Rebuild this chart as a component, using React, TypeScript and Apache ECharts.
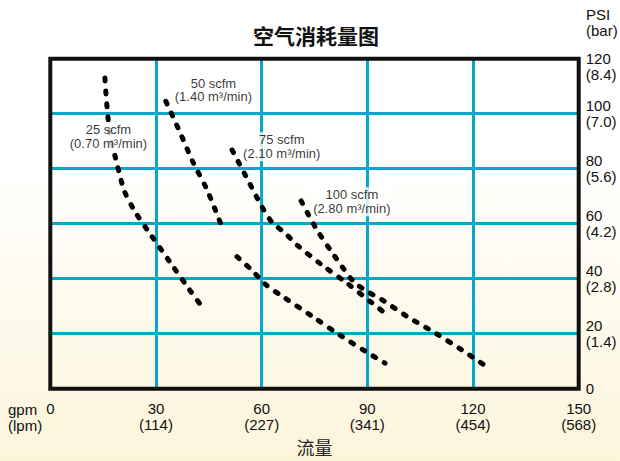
import React, { useEffect, useRef } from 'react';
import * as echarts from 'echarts';

// Axis ticks
const gpmTicks = [0, 30, 60, 90, 120, 150];
const lpmTicks = ['', '(114)', '(227)', '(341)', '(454)', '(568)'];
const psiTicks = [0, 20, 40, 60, 80, 100, 120];
const barTicks = ['', '(1.4)', '(2.8)', '(4.2)', '(5.6)', '(7.0)', '(8.4)'];

// Curves: [flow gpm, pressure psi]
const curve25 = [
  [15.5, 113], [16.0, 104], [17.0, 92], [18.5, 84], [21.0, 72], [24.0, 64.5],
  [28.5, 56], [34.0, 46], [39.5, 36], [43.3, 29.4],
];
const curve50Upper = [
  [32.8, 104.5], [36.8, 93.3], [40.5, 82.4], [44.5, 72.3], [48.5, 59.6],
];
const curve50Lower = [
  [53.0, 48.0], [57.3, 43.0], [61.0, 38.0], [66.6, 33.0], [74.6, 26.1],
  [82.2, 19.5], [90.2, 13.0], [95.0, 9.3],
];
const curve75 = [
  [51.6, 86.8], [55.8, 76.6], [60.1, 66.1], [62.9, 60.6], [66.6, 56.6],
  [70.0, 52.3], [77.1, 45.0], [84.2, 38.4], [91.3, 31.2], [95.5, 27.0],
];
const curve100 = [
  [71.2, 68.3], [75.7, 57.7], [80.5, 48.6], [83.1, 43.9], [86.2, 38.8],
  [90.2, 35.2], [94.2, 32.3], [101.5, 26.1], [109.2, 20.3], [116.8, 14.1],
  [124.8, 7.2],
];

// Curve labels
const curveNames = ['25 scfm', '50 scfm', '75 scfm', '100 scfm'];
const curveM3 = ['0.70', '1.40', '2.10', '2.80'];
const labelAnchors = [[16.5, 91.7], [46.3, 108.6], [65.7, 88.0], [85.6, 68.0]];

const BLUE = '#06a7c9';
const INK = '#111111';
const LATIN = 'Liberation Sans, Arial, sans-serif';
const CJK = 'Noto Sans CJK SC, sans-serif';

export default function App() {
  const ref = useRef<HTMLDivElement>(null);

  useEffect(() => {
    if (!ref.current) return;
    const chart = echarts.init(ref.current, undefined, { renderer: 'svg' });
    const dash = { color: '#000', width: 5, type: [3, 10] as number[], cap: 'round' as const };
    const lineSeries = (name: string, data: number[][]) => ({
      type: 'line',
      name,
      data,
      smooth: 0.3,
      symbol: 'none',
      showSymbol: false,
      silent: true,
      lineStyle: dash,
      z: 3,
    });
    const maxPsi = psiTicks[psiTicks.length - 1];

    chart.setOption({
      animation: false,
      backgroundColor: 'transparent',
      title: {
        text: '空气消耗量图',
        left: 248,
        top: 19,
        textStyle: { fontSize: 21, fontWeight: 'bold', color: INK, fontFamily: CJK },
      },
      grid: {
        left: 50.3,
        right: 41.3,
        top: 58.7,
        bottom: 72.3,
        outerBoundsMode: 'none',
        containLabel: false,
        show: true,
        backgroundColor: 'transparent',
        borderColor: INK,
        borderWidth: 4,
        z: 10,
      },
      xAxis: {
        type: 'value',
        min: gpmTicks[0],
        max: gpmTicks[gpmTicks.length - 1],
        interval: 30,
        axisLine: { show: false },
        axisTick: { show: false },
        splitLine: {
          show: true,
          showMinLine: false,
          showMaxLine: false,
          lineStyle: { color: BLUE, width: 3 },
        },
        axisLabel: {
          margin: 12,
          fontSize: 15,
          lineHeight: 16,
          color: INK,
          fontFamily: LATIN,
          formatter: (v: number) => {
            const i = gpmTicks.indexOf(v);
            return lpmTicks[i] ? `${v}\n${lpmTicks[i]}` : `${v}`;
          },
        },
        name: '流量',
        nameLocation: 'middle',
        nameGap: 49,
        nameTextStyle: { fontSize: 18, lineHeight: 18, color: '#222', fontFamily: CJK },
      },
      yAxis: {
        type: 'value',
        position: 'right',
        min: psiTicks[0],
        max: maxPsi,
        interval: 20,
        axisLine: { show: false },
        axisTick: { show: false },
        splitLine: {
          show: true,
          showMinLine: false,
          showMaxLine: false,
          lineStyle: { color: BLUE, width: 3 },
        },
        axisLabel: {
          margin: 7,
          fontSize: 15,
          lineHeight: 16,
          color: INK,
          fontFamily: LATIN,
          align: 'left',
          verticalAlign: 'middle',
          formatter: (v: number) => {
            const i = psiTicks.indexOf(v);
            if (!barTicks[i]) return `${v}`;
            return v === maxPsi ? `\n${v}\n${barTicks[i]}` : `${v}\n${barTicks[i]}`;
          },
        },
      },
      graphic: [
        {
          type: 'text',
          left: 586,
          top: 6,
          style: { text: 'PSI\n(bar)', fontSize: 15, lineHeight: 16, fill: INK, fontFamily: LATIN },
        },
        {
          type: 'text',
          left: 8,
          top: 401,
          style: { text: 'gpm\n(lpm)', fontSize: 15, lineHeight: 16, fill: INK, fontFamily: LATIN },
        },
      ],
      series: [
        lineSeries('25 scfm', curve25),
        lineSeries('50 scfm', curve50Upper),
        lineSeries('50 scfm lower', curve50Lower),
        lineSeries('75 scfm', curve75),
        lineSeries('100 scfm', curve100),
        {
          type: 'scatter',
          name: 'labels',
          silent: true,
          symbolSize: 1,
          itemStyle: { color: 'transparent' },
          z: 6,
          data: labelAnchors.map((p, i) => ({ value: p, name: curveNames[i] })),
          label: {
            show: true,
            position: 'inside',
            formatter: (p: any) => `${curveNames[p.dataIndex]}\n(${curveM3[p.dataIndex]} m³/min)`,
            backgroundColor: '#ffffff',
            padding: [1, 2, 1, 2],
            fontSize: 13,
            lineHeight: 13.5,
            color: '#000',
            fontFamily: LATIN,
            align: 'center',
          },
        },
      ],
    });
    return () => chart.dispose();
  }, []);

  return (
    <div
      style={{
        position: 'fixed',
        left: 0,
        top: 0,
        width: 620,
        height: 461,
        background: 'linear-gradient(#ffffff 0%, #ffffff 35%, #fcf5da 100%)',
      }}
    >
      <div ref={ref} style={{ width: 620, height: 461 }} />
    </div>
  );
}
